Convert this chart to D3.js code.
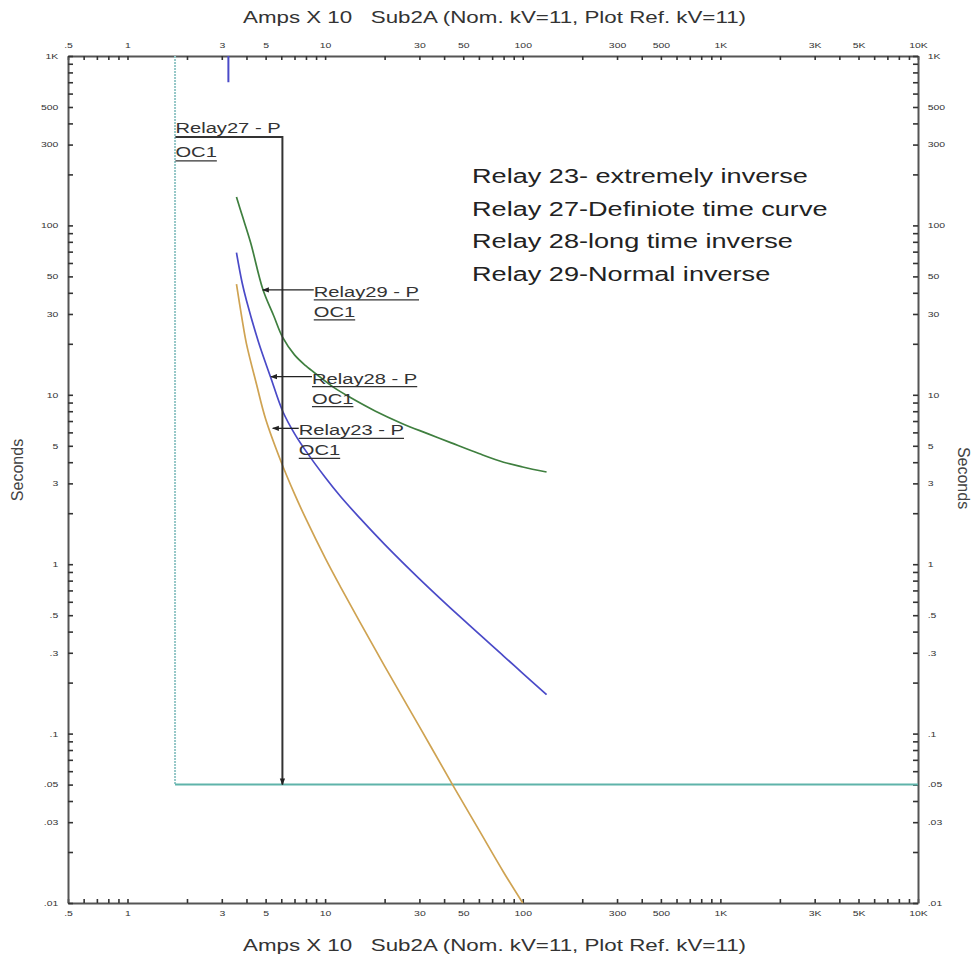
<!DOCTYPE html>
<html>
<head>
<meta charset="utf-8">
<script src="https://cdn.jsdelivr.net/npm/d3@7"></script>
<style>
body{margin:0;background:#fff;}
text{font-family:Arial,"Liberation Sans",sans-serif;}
</style>
</head>
<body>
<script>
//curve points: [current (Amps X 10), time (s)]
var relay23Curve = [[3.56,45],[3.8,28],[4,20],[4.5,11.5],[5,7.2],[6,4.0],[7,2.6],[8,1.85],[10,1.09],[12,0.73],[15,0.455],[20,0.25],[30,0.11],[45,0.048],[60,0.027],[80,0.0152],[100,0.01]];
var relay28Curve = [[3.56,69],[3.8,46],[4,36],[4.6,20.5],[5.3,12.7],[6.1,8],[7,5.9],[8,4.65],[10,3.26],[12,2.5],[15,1.87],[20,1.31],[30,0.82],[50,0.47],[80,0.287],[100,0.227],[132,0.17]];
var relay29Curve = [[3.56,147],[3.8,115],[4.2,79],[4.84,42],[5.5,29.2],[6.1,21.8],[7,17.2],[8,14.8],[9.2,13],[11,11.1],[13.5,9.6],[18,8],[24.3,6.8],[33,5.9],[43.5,5.2],[60,4.5],[80,4.0],[100,3.75],[132,3.5]];

//definite time relay 27 and the pickup marks
var relay27Amps = 6.08, relay27Secs = [333, 0.05];
var relay28PickupAmps = 3.24, relay28PickupSecs = [1000, 700];
var boundaryAmps = 1.74, boundarySecs = 0.05;

//labels with the point their arrow touches
var curveLabels = [
    {name: "Relay29 - P", sub: "OC1", tip: [4.78, 41.6], dx: 52},
    {name: "Relay28 - P", sub: "OC1", tip: [5.26, 12.8], dx: 42},
    {name: "Relay23 - P", sub: "OC1", tip: [5.37, 6.34], dx: 27}
];
var noteLines = ["Relay 23- extremely inverse", "Relay 27-Definiote time curve", "Relay 28-long time inverse", "Relay 29-Normal inverse"];

var xTickLabels = [0.5, 1, 3, 5, 10, 30, 50, 100, 300, 500, 1000, 3000, 5000, 10000];
var yTickLabels = [0.01, 0.03, 0.05, 0.1, 0.3, 0.5, 1, 3, 5, 10, 30, 50, 100, 300, 500, 1000];
var xTitle = "Amps X 10   Sub2A (Nom. kV=11, Plot Ref. kV=11)";
var yTitle = "Seconds";

//the picture is stretched sideways, so is its text
var SX = 1.39;
var width = 976, height = 959;

var svg = d3.select("body").append("svg")
    .attr("width", width)
    .attr("height", height);

var x = d3.scaleLog().domain([0.5, 10000]).range([68, 918]);
var y = d3.scaleLog().domain([0.01, 1000]).range([903, 56]);

function fmt(labels){
    return function(v){
        var hit = labels.find(function(l){ return Math.abs(Math.log10(v / l)) < 1e-6; });
        if (hit === undefined) return "";
        if (hit >= 1000) return (hit / 1000) + "K";
        if (hit < 1) return String(hit).replace(/^0/, "");
        return String(hit);
    };
}

//arrow marker
svg.append("defs").append("marker")
    .attr("id", "arr")
    .attr("viewBox", "0 -4 8 8")
    .attr("refX", 7).attr("refY", 0)
    .attr("markerWidth", 7).attr("markerHeight", 7)
    .attr("markerUnits", "userSpaceOnUse")
    .attr("orient", "auto")
    .append("path").attr("d", "M0,-3L8,0L0,3Z").attr("fill", "#222");

//axes on all four sides, ticks pointing in
function styleAxis(g){
    g.select(".domain").attr("stroke", "#555").attr("stroke-width", 2);
    g.selectAll(".tick line").attr("stroke", "#333").attr("stroke-width", 1.6);
    g.selectAll(".tick text").attr("fill", "#333").attr("font-size", 7.5)
        .attr("font-family", "Arial, 'Liberation Sans', sans-serif")
        .attr("transform", "scale(" + SX + ",1)");
}
svg.append("g").attr("transform", "translate(0," + y(1000) + ")")
    .call(d3.axisTop(x).tickValues(x.ticks()).tickSizeInner(-4).tickSizeOuter(0).tickPadding(8).tickFormat(fmt(xTickLabels)))
    .call(styleAxis);
svg.append("g").attr("transform", "translate(0," + y(0.01) + ")")
    .call(d3.axisBottom(x).tickValues(x.ticks()).tickSizeInner(-4).tickSizeOuter(0).tickPadding(8).tickFormat(fmt(xTickLabels)))
    .call(styleAxis);
svg.append("g").attr("transform", "translate(" + x(0.5) + ",0)")
    .call(d3.axisLeft(y).tickValues(y.ticks()).tickSizeInner(-5).tickSizeOuter(0).tickPadding(7).tickFormat(fmt(yTickLabels)))
    .call(styleAxis);
svg.append("g").attr("transform", "translate(" + x(10000) + ",0)")
    .call(d3.axisRight(y).tickValues(y.ticks()).tickSizeInner(-5).tickSizeOuter(0).tickPadding(7).tickFormat(fmt(yTickLabels)))
    .call(styleAxis);

//axis titles
[23, 951].forEach(function(ty){
    svg.append("text")
        .attr("x", 243).attr("y", ty)
        .attr("font-size", 16.5).attr("fill", "#333")
        .style("white-space", "pre")
        .attr("textLength", 503).attr("lengthAdjust", "spacingAndGlyphs")
        .text(xTitle);
});
svg.append("text")
    .attr("transform", "translate(23,470) rotate(-90)")
    .attr("text-anchor", "middle")
    .attr("font-size", 16).attr("fill", "#444")
    .text(yTitle);
svg.append("text")
    .attr("transform", "translate(958,478) rotate(90)")
    .attr("text-anchor", "middle")
    .attr("font-size", 16).attr("fill", "#444")
    .text(yTitle);

//teal boundary lines
svg.append("line")
    .attr("x1", x(boundaryAmps)).attr("x2", x(boundaryAmps))
    .attr("y1", y(1000)).attr("y2", y(boundarySecs))
    .attr("stroke", "#96c8c8").attr("stroke-width", 2).attr("stroke-dasharray", "2,1");
svg.append("line")
    .attr("x1", x(boundaryAmps)).attr("x2", x(10000))
    .attr("y1", y(boundarySecs)).attr("y2", y(boundarySecs))
    .attr("stroke", "#5fb3aa").attr("stroke-width", 2);

//relay 28 pickup mark
svg.append("line")
    .attr("x1", x(relay28PickupAmps)).attr("x2", x(relay28PickupAmps))
    .attr("y1", y(relay28PickupSecs[0])).attr("y2", y(relay28PickupSecs[1]))
    .attr("stroke", "#4a4ac8").attr("stroke-width", 2);

//inverse curves
var line = d3.line()
    .x(function(d){ return x(d[0]); })
    .y(function(d){ return y(d[1]); })
    .curve(d3.curveCatmullRom.alpha(0.5));
[[relay23Curve, "#cfa352"], [relay28Curve, "#4a4ac8"], [relay29Curve, "#3f7f3f"]].forEach(function(c){
    svg.append("path")
        .datum(c[0])
        .attr("d", line)
        .attr("fill", "none")
        .attr("stroke", c[1])
        .attr("stroke-width", 1.7);
});

//relay 27 definite time line with its label
var r27x = x(relay27Amps), r27top = y(relay27Secs[0]);
svg.append("path")
    .attr("d", "M" + (r27x - 107) + "," + r27top + "H" + r27x + "V" + y(relay27Secs[1]))
    .attr("fill", "none").attr("stroke", "#333").attr("stroke-width", 2)
    .attr("marker-end", "url(#arr)");

function stretchText(tx, ty, str, size){
    var t = svg.append("text")
        .attr("transform", "translate(" + tx + "," + ty + ") scale(" + SX + ",1)")
        .attr("font-size", size).attr("fill", "#333")
        .text(str);
    return t.node().getComputedTextLength() * SX;
}
stretchText(r27x - 107, r27top - 4, "Relay27 - P", 14.5);
var w27 = stretchText(r27x - 107, r27top + 20, "OC1", 14.5);
svg.append("line")
    .attr("x1", r27x - 107).attr("x2", r27x - 107 + w27)
    .attr("y1", r27top + 24).attr("y2", r27top + 24)
    .attr("stroke", "#333").attr("stroke-width", 1.3);

//curve labels with leader arrows
curveLabels.forEach(function(l){
    var tx = x(l.tip[0]), ty = y(l.tip[1]), lx = tx + l.dx;
    svg.append("line")
        .attr("x1", lx).attr("x2", tx + 1)
        .attr("y1", ty).attr("y2", ty)
        .attr("stroke", "#222").attr("stroke-width", 1.3)
        .attr("marker-end", "url(#arr)");
    var w1 = stretchText(lx, ty + 7, l.name, 14.5);
    svg.append("line")
        .attr("x1", lx).attr("x2", lx + w1)
        .attr("y1", ty + 10).attr("y2", ty + 10)
        .attr("stroke", "#333").attr("stroke-width", 1.3);
    var w2 = stretchText(lx, ty + 27, l.sub, 14.5);
    svg.append("line")
        .attr("x1", lx).attr("x2", lx + w2)
        .attr("y1", ty + 30).attr("y2", ty + 30)
        .attr("stroke", "#333").attr("stroke-width", 1.3);
});

//note block
noteLines.forEach(function(s, i){
    svg.append("text")
        .attr("transform", "translate(472," + (183 + i * 32.7) + ") scale(" + SX + ",1)")
        .attr("font-size", 19.5).attr("fill", "#222")
        .text(s);
});
</script>
</body>
</html>
